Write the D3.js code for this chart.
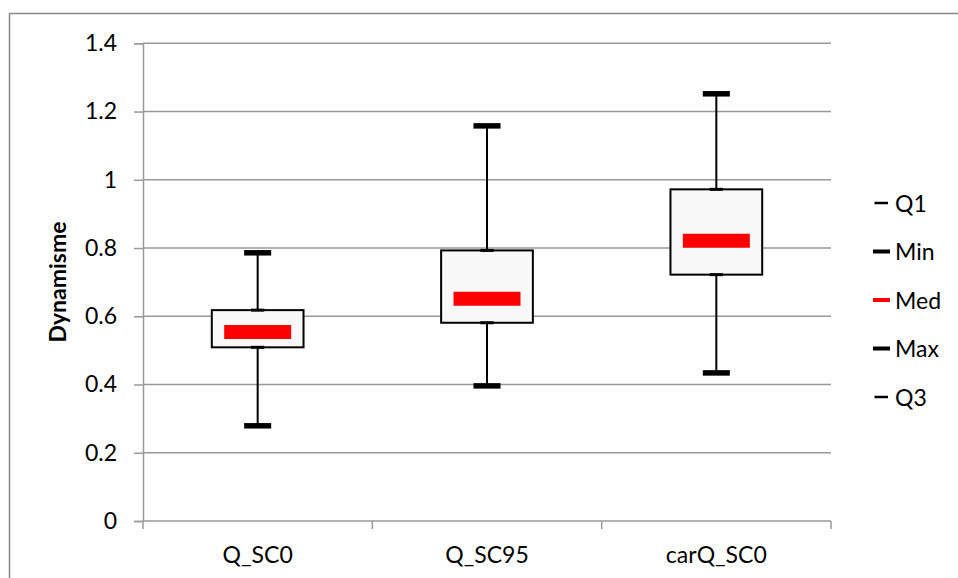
<!DOCTYPE html>
<html>
<head>
<meta charset="utf-8">
<script src="https://cdn.jsdelivr.net/npm/d3@7"></script>
<style>
  html, body { margin: 0; padding: 0; background: #fff; }
  svg { display: block; font-family: Lato, "Open Sans", sans-serif; }
</style>
</head>
<body>
<svg id="chart" width="958" height="578"></svg>
<script>
const categories = ["Q_SC0", "Q_SC95", "carQ_SC0"];
const minValues = [0.279, 0.396, 0.434];
const q1Values  = [0.509, 0.581, 0.722];
const medValues = [0.554, 0.651, 0.821];
const q3Values  = [0.618, 0.793, 0.972];
const maxValues = [0.786, 1.158, 1.252];
const yTicks = [0, 0.2, 0.4, 0.6, 0.8, 1, 1.2, 1.4];
const legendLabels = ["Q1", "Min", "Med", "Max", "Q3"];
const yTitle = "Dynamisme";

const data = categories.map((c, i) => ({
  cat: c, min: minValues[i], q1: q1Values[i], med: medValues[i], q3: q3Values[i], max: maxValues[i]
}));

const FS = "23px";
const svg = d3.select("#chart");
const plotLeft = 143, plotRight = 831, plotTop = 43.3, plotBottom = 521;

// outer border
svg.append("rect").attr("x", 9.5).attr("y", 13.5).attr("width", 1000).attr("height", 1000)
  .attr("fill", "none").attr("stroke", "#888").attr("stroke-width", 1.5);

const x = d3.scaleBand().domain(categories).range([plotLeft, plotRight]).padding(0);
const y = d3.scaleLinear().domain([0, 1.4]).range([plotBottom, plotTop]);

// gridlines
svg.append("g").selectAll("line").data(yTicks.slice(1)).join("line")
  .attr("x1", plotLeft).attr("x2", plotRight)
  .attr("y1", d => y(d)).attr("y2", d => y(d))
  .attr("stroke", "#999").attr("stroke-width", 1.5);

// y axis
const yAxis = d3.axisLeft(y).tickValues(yTicks).tickFormat(d => String(d)).tickSize(9).tickPadding(17);
const gy = svg.append("g").attr("transform", `translate(${plotLeft},0)`).call(yAxis);
gy.select(".domain").attr("stroke", "#999").attr("stroke-width", 1.5);
gy.selectAll(".tick line").attr("stroke", "#999").attr("stroke-width", 1.5);
gy.selectAll(".tick text").attr("fill", "#000").style("font-size", FS).style("font-family", "Lato, 'Open Sans', sans-serif");

// x axis
const gx = svg.append("g").attr("transform", `translate(0,${plotBottom})`)
  .call(d3.axisBottom(x).tickSize(0).tickPadding(26));
gx.select(".domain").remove();
gx.selectAll(".tick text").attr("fill", "#000").style("font-size", FS).style("font-family", "Lato, 'Open Sans', sans-serif");
svg.append("line").attr("x1", plotLeft).attr("x2", plotRight).attr("y1", plotBottom).attr("y2", plotBottom)
  .attr("stroke", "#999").attr("stroke-width", 1.5);
// category boundary ticks
const bounds = categories.map(c => x(c)).concat([plotRight]);
svg.append("g").selectAll("line").data(bounds).join("line")
  .attr("x1", d => d).attr("x2", d => d).attr("y1", plotBottom).attr("y2", plotBottom + 8)
  .attr("stroke", "#999").attr("stroke-width", 1.5);

// y title
svg.append("text").attr("transform", `translate(66,282) rotate(-90)`)
  .attr("text-anchor", "middle").style("font-size", FS).style("font-weight", "bold")
  .text(yTitle);

// boxes
const bw = x.bandwidth();
const boxW = bw * 0.4, medW = bw * 0.292, capW = bw * 0.118, smallW = bw * 0.058;
const g = svg.append("g").selectAll("g").data(data).join("g")
  .attr("transform", d => `translate(${x(d.cat) + bw / 2},0)`);

// whiskers
g.append("line").attr("x1", 0).attr("x2", 0).attr("y1", d => y(d.max)).attr("y2", d => y(d.q3))
  .attr("stroke", "#000").attr("stroke-width", 2);
g.append("line").attr("x1", 0).attr("x2", 0).attr("y1", d => y(d.q1)).attr("y2", d => y(d.min))
  .attr("stroke", "#000").attr("stroke-width", 2);
// box
g.append("rect").attr("x", -boxW / 2).attr("width", boxW)
  .attr("y", d => y(d.q3)).attr("height", d => y(d.q1) - y(d.q3))
  .attr("fill", "#f8f8f8").attr("stroke", "#000").attr("stroke-width", 2);
// caps
g.append("line").attr("x1", -capW / 2).attr("x2", capW / 2).attr("y1", d => y(d.max)).attr("y2", d => y(d.max))
  .attr("stroke", "#000").attr("stroke-width", 5.5);
g.append("line").attr("x1", -capW / 2).attr("x2", capW / 2).attr("y1", d => y(d.min)).attr("y2", d => y(d.min))
  .attr("stroke", "#000").attr("stroke-width", 5.5);
// small Q marks
g.append("line").attr("x1", -smallW / 2).attr("x2", smallW / 2).attr("y1", d => y(d.q3)).attr("y2", d => y(d.q3))
  .attr("stroke", "#000").attr("stroke-width", 3);
g.append("line").attr("x1", -smallW / 2).attr("x2", smallW / 2).attr("y1", d => y(d.q1)).attr("y2", d => y(d.q1))
  .attr("stroke", "#000").attr("stroke-width", 3);
// median
g.append("line").attr("x1", -medW / 2).attr("x2", medW / 2).attr("y1", d => y(d.med)).attr("y2", d => y(d.med))
  .attr("stroke", "#ff0000").attr("stroke-width", 14);

// legend
const legendColors = ["#000", "#000", "#ff0000", "#000", "#000"];
const legendThick = [2.5, 4, 4, 4, 2.5];
const legendShort = [true, false, false, false, true];
const lg = svg.append("g").selectAll("g").data(legendLabels).join("g")
  .attr("transform", (d, i) => `translate(873,${203 + i * 48.5})`);
lg.append("line").attr("x1", (d, i) => legendShort[i] ? 1.5 : 0).attr("x2", (d, i) => legendShort[i] ? 15 : 17)
  .attr("y1", 0).attr("y2", 0)
  .attr("stroke", (d, i) => legendColors[i]).attr("stroke-width", (d, i) => legendThick[i]);
lg.append("text").attr("x", 22).attr("dy", "0.38em").style("font-size", FS).text(d => d);
</script>
</body>
</html>
